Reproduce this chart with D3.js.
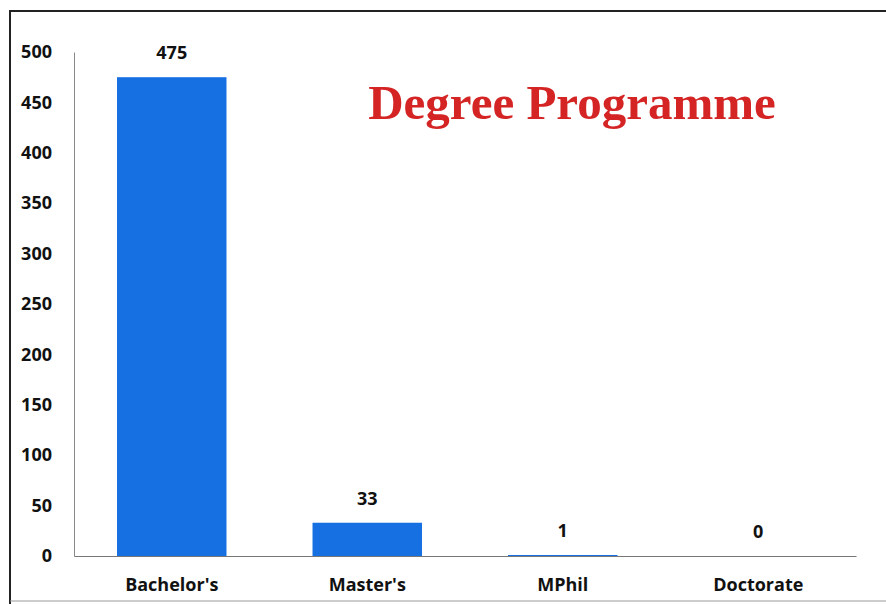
<!DOCTYPE html>
<meta charset="utf-8">
<style>
body { margin: 0; background: #fff; }
.axis text { font: bold 18px "Open Sans", Lato, sans-serif; fill: #111; }
.val { font: bold 18px "Open Sans", Lato, sans-serif; fill: #111; }
</style>
<svg width="886" height="604"></svg>
<script src="https://d3js.org/d3.v7.min.js"></script>
<script>

var categories = ["Bachelor's", "Master's", "MPhil", "Doctorate"];
var counts = [475, 33, 1, 0];
var yTicks = [0, 50, 100, 150, 200, 250, 300, 350, 400, 450, 500];
var title = "Degree Programme";

var svg = d3.select("svg"),
    margin = {top: 52, right: 30, bottom: 48, left: 74},
    width = 856 - margin.left,
    height = 556 - margin.top;

// frame of the photographed chart
svg.append("path")
    .attr("d", "M10,604 V11 H886")
    .attr("fill", "none")
    .attr("stroke", "#222")
    .attr("stroke-width", 2);
svg.append("line")
    .attr("x1", 10).attr("x2", 886).attr("y1", 601).attr("y2", 601)
    .attr("stroke", "#999").attr("stroke-width", 1);

var g = svg.append("g").attr("transform", "translate(" + margin.left + "," + margin.top + ")");

var x = d3.scaleBand()
    .domain(categories)
    .range([0, width])
    .paddingInner(0.44)
    .paddingOuter(0.22);

var y = d3.scaleLinear()
    .domain([0, 500])
    .range([height, 0]);

// y axis: labels only, thin gray line
var yAxis = g.append("g")
    .attr("class", "axis")
    .call(d3.axisLeft(y).tickValues(yTicks).tickSize(0).tickPadding(22));
yAxis.select(".domain").attr("stroke", "#888").attr("stroke-width", 1);

// x axis
var xAxis = g.append("g")
    .attr("class", "axis")
    .attr("transform", "translate(0," + height + ")")
    .call(d3.axisBottom(x).tickSize(0).tickPadding(22));
xAxis.select(".domain").attr("stroke", "#777").attr("stroke-width", 1.2);

g.selectAll(".bar")
  .data(categories)
  .enter().append("rect")
    .attr("class", "bar")
    .attr("x", function(d) { return x(d); })
    .attr("width", x.bandwidth())
    .attr("y", function(d, i) { return y(counts[i]); })
    .attr("height", function(d, i) { return height - y(counts[i]); })
    .attr("fill", "#1770e2");

g.selectAll(".val")
  .data(categories)
  .enter().append("text")
    .attr("class", "val")
    .attr("x", function(d) { return x(d) + x.bandwidth() / 2; })
    .attr("y", function(d, i) { return y(counts[i]) - 18; })
    .attr("text-anchor", "middle")
    .text(function(d, i) { return counts[i]; });

svg.append("text")
    .attr("x", 572)
    .attr("y", 119)
    .attr("text-anchor", "middle")
    .attr("fill", "#d42424")
    .style("font", "bold 49px 'Liberation Serif', 'DejaVu Serif', serif")
    .text(title);

</script>
